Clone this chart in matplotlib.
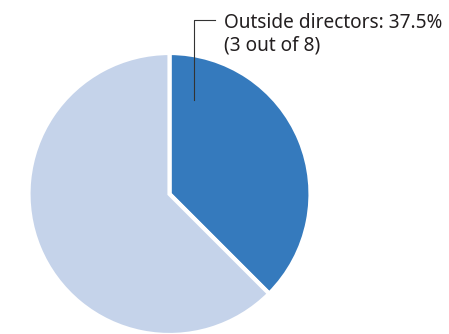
import matplotlib.pyplot as plt

# data
labels = ['Outside directors', 'Inside directors']
counts = [3, 5]
colors = ['#357ABD', '#C5D3EA']

plt.rcParams['font.family'] = ['Noto Sans', 'DejaVu Sans']

fig = plt.figure(figsize=(4.49, 3.34), dpi=100)
ax = fig.add_axes([0, 0, 1, 1])

ax.pie(counts, colors=colors, startangle=90, counterclock=False,
       center=(169.5, 140), radius=141,
       wedgeprops=dict(edgecolor='white', linewidth=3))

# pie() resets the limits, so set them afterwards
ax.set_xlim(0, 449)
ax.set_ylim(0, 334)
ax.set_aspect('equal')
ax.axis('off')

share = counts[0] / sum(counts) * 100
# leader line
ax.plot([194, 194, 215], [234, 314, 314], color='#333333', lw=0.8)
ax.text(224, 306, f'{labels[0]}: {share:.1f}%', fontsize=13.7,
        color='#231f20', va='baseline')
ax.text(224, 283, f'({counts[0]} out of {sum(counts)})', fontsize=13.7,
        color='#231f20', va='baseline')

fig.savefig('out.png', dpi=100)
